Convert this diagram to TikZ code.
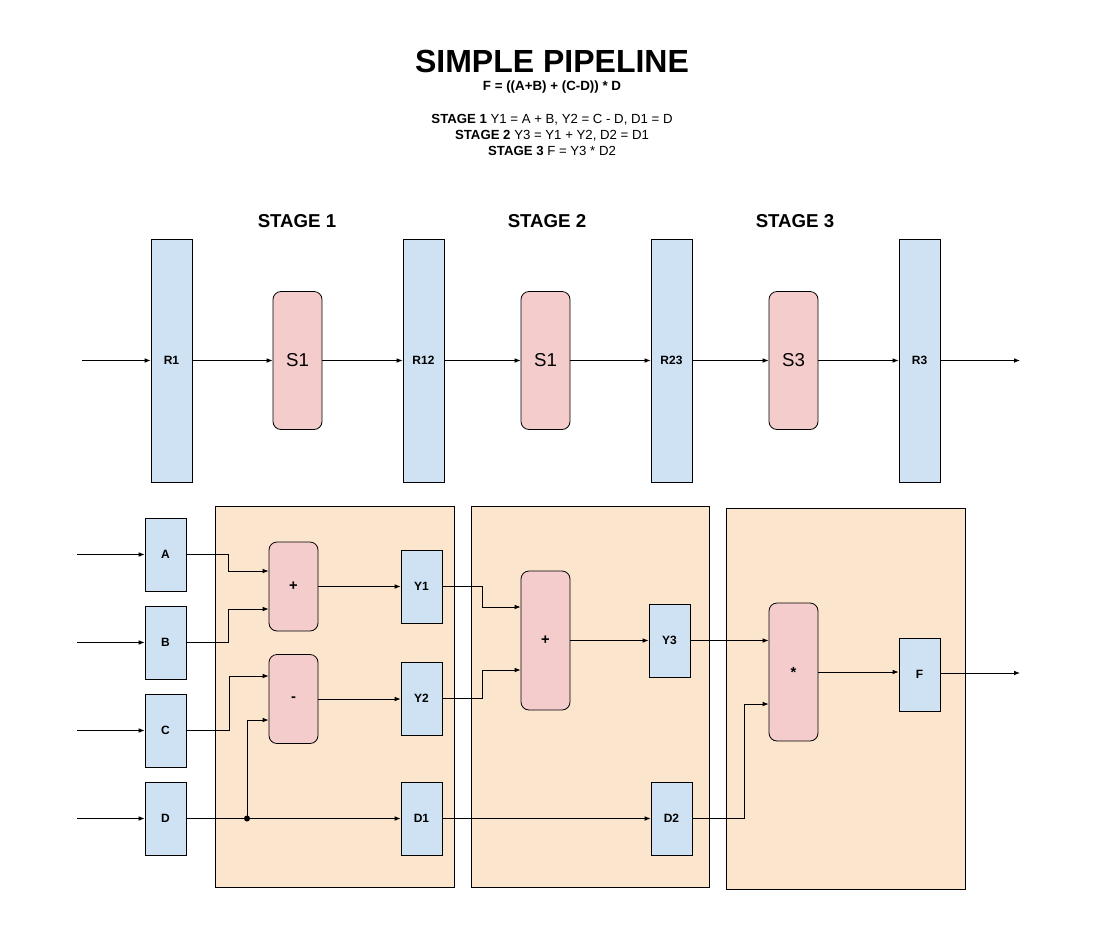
\documentclass[tikz,border=0pt]{standalone}
\usepackage{fontspec}
\setmainfont{Liberation Sans}
\usetikzlibrary{arrows.meta,calc}
\definecolor{regblue}{HTML}{CFE2F3}
\definecolor{oppink}{HTML}{F4CCCC}
\definecolor{stageorange}{HTML}{FCE5CD}
\tikzset{
    reg/.style={draw,fill=regblue,minimum width=30.75pt,minimum height=#1,inner sep=0pt,
        font=\bfseries\fontsize{9}{11}\selectfont},
    op/.style={draw,fill=oppink,rounded corners=6pt,minimum width=36.75pt,minimum height=#1,inner sep=0pt,
        font=\bfseries\fontsize{11}{13}\selectfont},
    stagebox/.style={draw,fill=stageorange,inner sep=0pt},
    stagelabel/.style={font=\bfseries\fontsize{14}{16}\selectfont},
    arr/.style={-{Latex[length=4.5pt,width=3.5pt]}},
    dot/.style={circle,fill,inner sep=0pt,minimum size=4.5pt}
}
\begin{document}
\begin{tikzpicture}[x=0.75pt,y=-0.75pt,line width=0.6pt]
    \useasboundingbox (0,0) rectangle (1108,947);
    % title and formulas
    \node[font=\bfseries\fontsize{24}{28}\selectfont] (title) at (552,61) {SIMPLE PIPELINE};
    \node[font=\bfseries\fontsize{10}{12}\selectfont] (formula) at (552,87.5) {F = ((A+B) + (C-D)) * D};
    \node[font=\fontsize{9.9}{12}\selectfont,align=center] (steps) at (552,135)
        {\textbf{STAGE 1} Y1 = A + B, Y2 = C - D, D1 = D\\
         \textbf{STAGE 2} Y3 = Y1 + Y2, D2 = D1\\
         \textbf{STAGE 3} F = Y3 * D2};
    % stage labels
    \node[stagelabel] (lab1) at (297,221) {STAGE 1};
    \node[stagelabel] (lab2) at (547,221) {STAGE 2};
    \node[stagelabel] (lab3) at (795,221) {STAGE 3};
    % top pipeline
    \foreach \name/\x in {R1/171.5,R12/423.5,R23/671.5,R3/919.5}{
        \node[reg=182.25pt] (\name) at (\x,360.5) {\name};
    }
    \foreach \name/\x/\lab in {SA/297.5/S1,SB/545.5/S1,SC/793.5/S3}{
        \node[op=103.5pt,font=\fontsize{14}{16}\selectfont] (\name) at (\x,360.5) {\lab};
    }
    \coordinate (pin) at (82,360.5);
    \coordinate (pout) at (1020,360.5);
    \draw[arr] (pin) -- (R1);
    \draw[arr] (R1) -- (SA);
    \draw[arr] (SA) -- (R12);
    \draw[arr] (R12) -- (SB);
    \draw[arr] (SB) -- (R23);
    \draw[arr] (R23) -- (SC);
    \draw[arr] (SC) -- (R3);
    \draw[arr] (R3) -- (pout);
    % stage boxes
    \node[stagebox,minimum width=179.25pt,minimum height=285.75pt] (st1) at (334.5,696.5) {};
    \node[stagebox,minimum width=178.5pt,minimum height=285.75pt] (st2) at (590,696.5) {};
    \node[stagebox,minimum width=179.25pt,minimum height=285.75pt] (st3) at (845.5,698.5) {};
    % inputs
    \foreach \name/\y in {A/554.5,B/642.5,C/730.5,D/818.5}{
        \coordinate (in\name) at (77,\y);
        \node[reg=54.75pt] (\name) at (165.5,\y) {\name};
        \draw[arr] (in\name) -- (\name);
    }
    % stage 1
    \node[op=66.75pt] (add1) at (293.5,586.5) {+};
    \node[op=66.75pt] (sub1) at (293.5,699) {-};
    \node[reg=54.75pt] (Y1) at (421.5,586.5) {Y1};
    \node[reg=54.75pt] (Y2) at (421.5,698.5) {Y2};
    \node[reg=54.75pt] (D1) at (421.5,818.5) {D1};
    \node[dot] (split) at (247,818.5) {};
    \draw[arr] (A.east) -- ++(42,0) |- ($(add1.west)+(0,-15.5)$);
    \draw[arr] (B.east) -- ++(42,0) |- ($(add1.west)+(0,22.5)$);
    \draw[arr] (C.east) -- ++(43,0) |- ($(sub1.west)+(0,-23)$);
    \draw (D.east) -- (split.center);
    \draw[arr] (split.center) -- (D1);
    \draw[arr] (split.center) |- ($(sub1.west)+(0,21)$);
    \draw[arr] (add1) -- (Y1);
    \draw[arr] (sub1.east) -- (sub1.east -| Y2.west);
    % stage 2
    \node[op=104.25pt] (add2) at (545.5,640.5) {+};
    \node[reg=54.75pt] (Y3) at (669.5,640.5) {Y3};
    \node[reg=54.75pt] (D2) at (671.5,818.5) {D2};
    \draw[arr] (Y1.east) -- ++(40,0) |- ($(add2.west)+(0,-33.5)$);
    \draw[arr] (Y2.east) -- ++(40,0) |- ($(add2.west)+(0,29.5)$);
    \draw[arr] (add2) -- (Y3);
    \draw[arr] (D1) -- (D2);
    % stage 3
    \node[op=103.5pt] (mul) at (793.5,672) {*};
    \node[reg=54.75pt] (F) at (919.5,674.5) {F};
    \coordinate (fout) at (1020,673);
    \draw[arr] (Y3.east) -- (Y3.east -| mul.west);
    \draw[arr] (D2.east) -- ++(52,0) |- ($(mul.west)+(0,32)$);
    \draw[arr] (mul.east) -- (mul.east -| F.west);
    \draw[arr] (F.east |- fout) -- (fout);
\end{tikzpicture}
\end{document}
